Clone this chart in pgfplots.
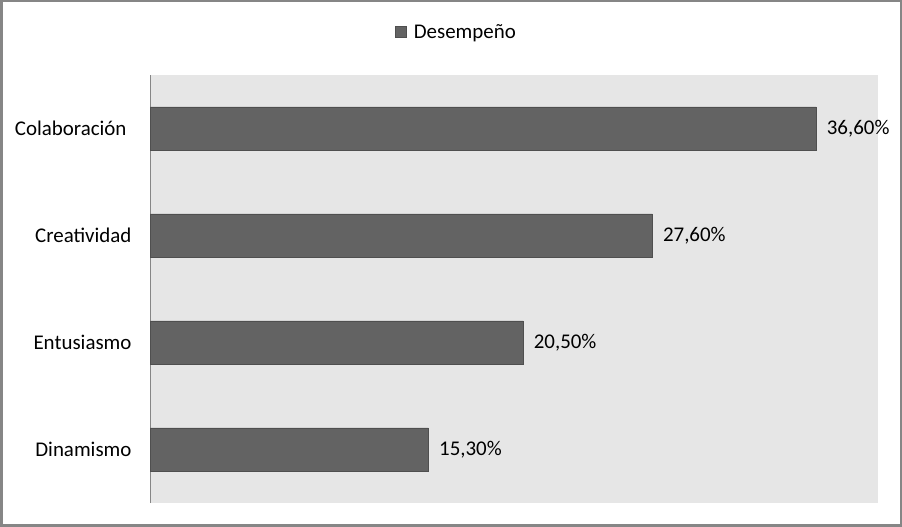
\documentclass[border=0pt]{standalone}
\usepackage{fontspec}
\setmainfont{Carlito}
\usepackage{pgfplots}
\pgfplotsset{compat=1.18}
\definecolor{barfill}{HTML}{636363}
\definecolor{bardraw}{HTML}{4F4F4F}
\definecolor{plotbg}{HTML}{E6E6E6}
\definecolor{frame}{HTML}{868686}
\newcommand\chartfont{\fontsize{21}{25}\selectfont}
\begin{document}
\begin{tikzpicture}
\useasboundingbox (0,0) rectangle (902bp,527bp);
\draw[frame, line width=2.5bp] (1.25bp,1.25bp) rectangle (900.75bp,525.75bp);
\begin{axis}[
  at={(150bp,24bp)}, anchor=south west,
  scale only axis,
  width=728bp, height=428bp,
  xbar, bar width=43bp,
  xmin=0, xmax=40,
  ymin=0.5, ymax=4.5,
  ytick={1,2,3,4},
  yticklabels={Dinamismo, Entusiasmo, Creatividad, {Colaboración\kern5bp}},
  xtick=\empty,
  major tick length=0pt,
  axis x line=none,
  axis y line*=left,
  axis line style={frame, line width=0.8bp, -},
  axis background/.style={fill=plotbg},
  yticklabel style={font=\chartfont, xshift=-15bp},
  point meta=explicit symbolic,
  nodes near coords,
  nodes near coords style={font=\chartfont, anchor=west, xshift=7bp},
  legend style={at={(0.421,1.1)}, anchor=center, draw=none, fill=none,
    font=\chartfont},
  legend image code/.code={\fill[barfill, draw=bardraw, line width=0.5bp] (0bp,-5.5bp) rectangle (11bp,5.5bp); \path (16bp,0bp);},
  clip=false,
]
\addplot[fill=barfill, draw=bardraw, line width=0.8bp] coordinates {
  (15.3,1) [15,30\%]
  (20.5,2) [20,50\%]
  (27.6,3) [27,60\%]
  (36.6,4) [36,60\%]
};
\addlegendentry{Desempeño}
\end{axis}
\end{tikzpicture}
\end{document}
